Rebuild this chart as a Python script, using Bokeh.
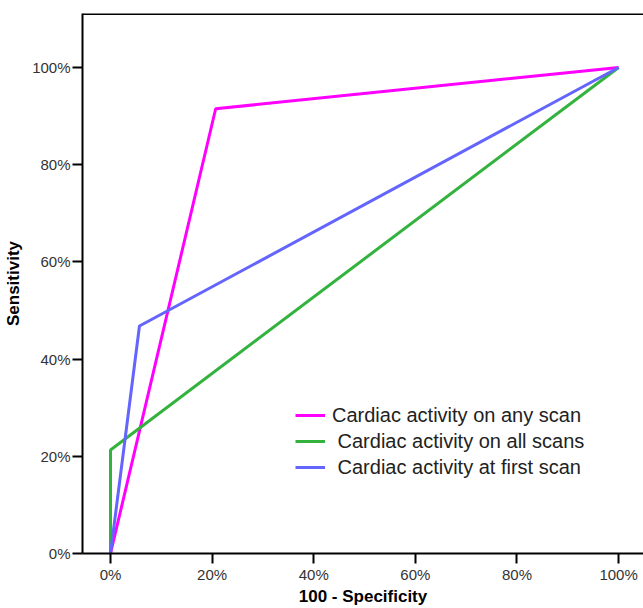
from bokeh.plotting import figure
from bokeh.models import FixedTicker, PrintfTickFormatter, Range1d, Legend, LegendItem, Span
from bokeh.embed import file_html
from bokeh.resources import INLINE

# Data (percent)
any_x = [0, 20.7, 100]
any_y = [0, 91.5, 100]
all_x = [0, 0, 100]
all_y = [0, 21.3, 100]
first_x = [0, 5.7, 100]
first_y = [0, 46.8, 100]
labels = ["Cardiac activity on any scan", " Cardiac activity on all scans", " Cardiac activity at first scan"]
colors = ["#ff00ff", "#33b33d", "#6464ff"]
ticks = [0, 20, 40, 60, 80, 100]

p = figure(width=643, height=608, output_backend="svg", toolbar_location=None,
           x_range=Range1d(-5.51, 104.9), y_range=Range1d(0, 111.1))
p.min_border_left = 82
p.min_border_top = 13
p.min_border_right = 0
p.min_border_bottom = 55
p.outline_line_color = None
p.grid.visible = False
p.background_fill_color = "white"

FONT = "Liberation Sans"
for ax in (p.xaxis[0], p.yaxis[0]):
    ax.ticker = FixedTicker(ticks=ticks)
    ax.formatter = PrintfTickFormatter(format="%d%%")
    ax.axis_line_width = 2
    ax.axis_line_color = "black"
    ax.major_tick_line_width = 2
    ax.major_tick_line_color = "black"
    ax.major_tick_out = 10
    ax.major_tick_in = 0
    ax.minor_tick_line_color = None
    ax.major_label_text_font = FONT
    ax.major_label_text_font_size = "15px"
    ax.major_label_text_color = "#333333"
    ax.axis_label_text_font = FONT
    ax.axis_label_text_font_size = "17px"
    ax.axis_label_text_font_style = "bold"
    ax.axis_label_text_color = "black"

p.xaxis.axis_label = "100 - Specificity"
p.yaxis.axis_label = "Sensitivity"
p.xaxis.major_label_standoff = 2
p.yaxis.major_label_standoff = 2
p.xaxis.axis_label_standoff = 1
p.yaxis.axis_label_standoff = 6

top = Span(location=111.0, dimension="width", line_color="black", line_width=2)
p.add_layout(top)

r1 = p.line(any_x, any_y, line_color=colors[0], line_width=3)
r2 = p.line(all_x, all_y, line_color=colors[1], line_width=3)
r3 = p.line(first_x, first_y, line_color=colors[2], line_width=3)

legend = Legend(items=[LegendItem(label=labels[0], renderers=[r1]),
                       LegendItem(label=labels[1], renderers=[r2]),
                       LegendItem(label=labels[2], renderers=[r3])],
                location=(213, 73))
legend.border_line_color = None
legend.background_fill_alpha = 0
legend.padding = 0
legend.spacing = 0
legend.margin = 0
legend.glyph_width = 30
legend.glyph_height = 26
legend.label_height = 26
legend.label_standoff = 7
legend.label_text_font = FONT
legend.label_text_font_size = "20px"
legend.label_text_color = "#222222"
p.add_layout(legend, "center")

open("out.html", "w").write(file_html(p, INLINE))
